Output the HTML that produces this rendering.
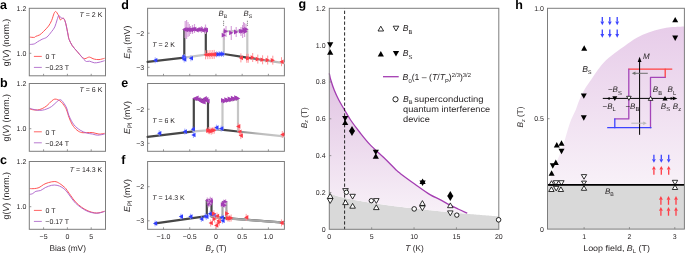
<!DOCTYPE html><html><head><meta charset="utf-8"><style>html,body{margin:0;padding:0;background:#fff;overflow:hidden}svg{display:block;will-change:transform;text-rendering:geometricPrecision}</style></head><body><svg width="685" height="254" viewBox="0 0 685 254" font-family="Liberation Sans, sans-serif">
<defs><linearGradient id="gpink" x1="0" y1="0" x2="0" y2="1" gradientUnits="objectBoundingBox"><stop offset="0" stop-color="#ddb9e0"/><stop offset="1" stop-color="#f6eef7"/></linearGradient><linearGradient id="hpink" x1="0" y1="25" x2="0" y2="185" gradientUnits="userSpaceOnUse"><stop offset="0" stop-color="#e6cbe8"/><stop offset="1" stop-color="#f8f1f8"/></linearGradient></defs>
<rect width="685" height="254" fill="#fff"/>
<path d="M29.60,37.10 C30.38,37.15 33.25,37.53 34.30,37.40 C35.35,37.27 34.98,36.73 35.90,36.30 C36.82,35.87 38.50,35.63 39.80,34.80 C41.10,33.97 42.25,32.75 43.70,31.30 C45.15,29.85 47.18,27.88 48.50,26.10 C49.82,24.32 50.68,22.70 51.60,20.60 C52.52,18.50 53.33,15.02 54.00,13.50 C54.67,11.98 55.08,11.58 55.60,11.50 C56.12,11.42 56.58,12.27 57.10,13.00 C57.62,13.73 58.17,14.77 58.70,15.90 C59.23,17.03 59.77,19.33 60.30,19.80 C60.83,20.27 61.30,18.88 61.90,18.70 C62.50,18.52 63.25,17.87 63.90,18.70 C64.55,19.53 65.12,21.15 65.80,23.70 C66.48,26.25 67.45,31.38 68.00,34.00 C68.55,36.62 68.38,37.45 69.10,39.40 C69.82,41.35 70.98,43.72 72.30,45.70 C73.62,47.68 75.43,49.45 77.00,51.30 C78.57,53.15 80.38,55.57 81.70,56.80 C83.02,58.03 83.93,58.57 84.90,58.70 C85.87,58.83 86.72,57.87 87.50,57.60 C88.28,57.33 88.85,57.00 89.60,57.10 C90.35,57.20 91.22,57.87 92.00,58.20 C92.78,58.53 93.13,58.87 94.30,59.10 C95.47,59.33 97.28,59.73 99.00,59.60 C100.72,59.47 103.67,58.52 104.60,58.30" fill="none" stroke="#ff4d4d" stroke-width="0.95" stroke-linejoin="round" />
<path d="M29.60,44.50 C30.38,44.40 33.00,44.33 34.30,43.90 C35.60,43.47 36.08,42.68 37.40,41.90 C38.72,41.12 40.62,40.00 42.20,39.20 C43.78,38.40 45.33,38.37 46.90,37.10 C48.47,35.83 50.28,33.30 51.60,31.60 C52.92,29.90 53.88,28.87 54.80,26.90 C55.72,24.93 56.45,21.68 57.10,19.80 C57.75,17.92 58.17,16.05 58.70,15.60 C59.23,15.15 59.77,16.67 60.30,17.10 C60.83,17.53 61.30,17.93 61.90,18.20 C62.50,18.47 63.25,17.78 63.90,18.70 C64.55,19.62 65.12,20.98 65.80,23.70 C66.48,26.42 67.45,32.38 68.00,35.00 C68.55,37.62 68.38,37.62 69.10,39.40 C69.82,41.18 70.98,43.72 72.30,45.70 C73.62,47.68 75.43,49.45 77.00,51.30 C78.57,53.15 80.53,55.42 81.70,56.80 C82.87,58.18 83.20,58.82 84.00,59.60 C84.80,60.38 85.57,61.23 86.50,61.50 C87.43,61.77 88.30,60.98 89.60,61.20 C90.90,61.42 92.73,62.62 94.30,62.80 C95.87,62.98 97.28,62.65 99.00,62.30 C100.72,61.95 103.67,60.97 104.60,60.70" fill="none" stroke="#a95ac8" stroke-width="0.95" stroke-linejoin="round" stroke-opacity="0.92"/>
<rect x="29.30" y="8.30" width="76.20" height="67.50" fill="none" stroke="#7d7d7d" stroke-width="1"/>
<line x1="43.59" y1="75.80" x2="43.59" y2="73.80" stroke="#7d7d7d" stroke-width="0.8" />
<line x1="67.40" y1="75.80" x2="67.40" y2="73.80" stroke="#7d7d7d" stroke-width="0.8" />
<line x1="91.21" y1="75.80" x2="91.21" y2="73.80" stroke="#7d7d7d" stroke-width="0.8" />
<line x1="29.30" y1="53.30" x2="31.30" y2="53.30" stroke="#7d7d7d" stroke-width="0.8" />
<text x="26.30" y="10.80" font-size="7" text-anchor="end" fill="#231f20" >1.2</text>
<text x="26.30" y="55.80" font-size="7" text-anchor="end" fill="#231f20" >1.0</text>
<line x1="33.90" y1="56.40" x2="41.80" y2="56.40" stroke="#ff6464" stroke-width="1.0" />
<line x1="33.90" y1="67.40" x2="41.80" y2="67.40" stroke="#b87ad0" stroke-width="1.0" />
<text x="45.60" y="59.10" font-size="7" text-anchor="start" fill="#231f20" >0 T</text>
<text x="45.30" y="70.10" font-size="7" text-anchor="start" fill="#231f20" >−0.23 T</text>
<text x="102.3" y="17.10" font-size="7" text-anchor="end" fill="#231f20"><tspan font-style="italic">T</tspan> = 2 K</text>
<text transform="translate(9.0,42.45) rotate(-90)" font-size="8.8" text-anchor="middle" fill="#231f20">g(<tspan font-style="italic">V</tspan>) (norm.)</text>
<path d="M29.60,108.90 C30.12,109.03 31.40,109.52 32.70,109.70 C34.00,109.88 35.82,110.18 37.40,110.00 C38.98,109.82 40.62,109.32 42.20,108.60 C43.78,107.88 45.33,106.97 46.90,105.70 C48.47,104.43 50.28,102.10 51.60,101.00 C52.92,99.90 53.75,99.30 54.80,99.10 C55.85,98.90 56.85,99.35 57.90,99.80 C58.95,100.25 60.05,100.82 61.10,101.80 C62.15,102.78 63.30,104.37 64.20,105.70 C65.10,107.03 65.68,107.82 66.50,109.80 C67.32,111.78 68.13,115.12 69.10,117.60 C70.07,120.08 70.98,122.60 72.30,124.70 C73.62,126.80 75.43,128.88 77.00,130.20 C78.57,131.52 80.12,132.20 81.70,132.60 C83.28,133.00 84.65,132.60 86.50,132.60 C88.35,132.60 90.72,132.35 92.80,132.60 C94.88,132.85 97.03,133.98 99.00,134.10 C100.97,134.22 103.67,133.43 104.60,133.30" fill="none" stroke="#ff4d4d" stroke-width="0.95" stroke-linejoin="round" />
<path d="M29.60,108.10 C30.12,108.28 31.40,108.85 32.70,109.20 C34.00,109.55 35.82,110.03 37.40,110.20 C38.98,110.37 40.62,110.42 42.20,110.20 C43.78,109.98 45.33,109.52 46.90,108.90 C48.47,108.28 50.03,107.60 51.60,106.50 C53.17,105.40 54.98,103.42 56.30,102.30 C57.62,101.18 58.57,100.07 59.50,99.80 C60.43,99.53 60.98,99.83 61.90,100.70 C62.82,101.57 64.15,103.62 65.00,105.00 C65.85,106.38 66.32,107.17 67.00,109.00 C67.68,110.83 67.95,113.38 69.10,116.00 C70.25,118.62 72.05,122.33 73.90,124.70 C75.75,127.07 78.10,128.82 80.20,130.20 C82.30,131.58 84.40,132.35 86.50,133.00 C88.60,133.65 90.97,133.73 92.80,134.10 C94.63,134.47 95.53,135.20 97.50,135.20 C99.47,135.20 103.42,134.28 104.60,134.10" fill="none" stroke="#a95ac8" stroke-width="0.95" stroke-linejoin="round" stroke-opacity="0.92"/>
<rect x="29.30" y="83.50" width="76.20" height="67.80" fill="none" stroke="#7d7d7d" stroke-width="1"/>
<line x1="43.59" y1="151.30" x2="43.59" y2="149.30" stroke="#7d7d7d" stroke-width="0.8" />
<line x1="67.40" y1="151.30" x2="67.40" y2="149.30" stroke="#7d7d7d" stroke-width="0.8" />
<line x1="91.21" y1="151.30" x2="91.21" y2="149.30" stroke="#7d7d7d" stroke-width="0.8" />
<line x1="29.30" y1="128.70" x2="31.30" y2="128.70" stroke="#7d7d7d" stroke-width="0.8" />
<text x="26.30" y="86.00" font-size="7" text-anchor="end" fill="#231f20" >1.2</text>
<text x="26.30" y="131.20" font-size="7" text-anchor="end" fill="#231f20" >1.0</text>
<line x1="33.90" y1="131.80" x2="41.80" y2="131.80" stroke="#ff6464" stroke-width="1.0" />
<line x1="33.90" y1="142.80" x2="41.80" y2="142.80" stroke="#b87ad0" stroke-width="1.0" />
<text x="45.60" y="134.50" font-size="7" text-anchor="start" fill="#231f20" >0 T</text>
<text x="45.30" y="145.50" font-size="7" text-anchor="start" fill="#231f20" >−0.24 T</text>
<text x="102.3" y="92.30" font-size="7" text-anchor="end" fill="#231f20"><tspan font-style="italic">T</tspan> = 6 K</text>
<text transform="translate(9.0,117.80) rotate(-90)" font-size="8.8" text-anchor="middle" fill="#231f20">g(<tspan font-style="italic">V</tspan>) (norm.)</text>
<path d="M29.60,188.60 C30.38,188.60 32.73,188.77 34.30,188.60 C35.87,188.43 37.43,188.28 39.00,187.60 C40.57,186.92 42.12,185.33 43.70,184.50 C45.28,183.67 46.65,183.10 48.50,182.60 C50.35,182.10 52.97,181.37 54.80,181.50 C56.63,181.63 57.93,182.48 59.50,183.40 C61.07,184.32 63.12,186.08 64.20,187.00 C65.28,187.92 64.92,187.48 66.00,188.90 C67.08,190.32 69.13,193.35 70.70,195.50 C72.27,197.65 73.57,199.83 75.40,201.80 C77.23,203.77 79.60,205.78 81.70,207.30 C83.80,208.82 85.90,209.98 88.00,210.90 C90.10,211.82 92.47,212.48 94.30,212.80 C96.13,213.12 97.28,213.07 99.00,212.80 C100.72,212.53 103.67,211.47 104.60,211.20" fill="none" stroke="#ff4d4d" stroke-width="0.95" stroke-linejoin="round" />
<path d="M29.60,194.40 C30.12,194.27 31.65,194.12 32.70,193.60 C33.75,193.08 34.58,191.82 35.90,191.30 C37.22,190.78 39.03,191.12 40.60,190.50 C42.17,189.88 43.47,188.47 45.30,187.60 C47.13,186.73 49.63,185.68 51.60,185.30 C53.57,184.92 55.38,184.97 57.10,185.30 C58.82,185.63 60.42,186.40 61.90,187.30 C63.38,188.20 64.53,189.08 66.00,190.70 C67.47,192.32 69.13,194.95 70.70,197.00 C72.27,199.05 73.57,201.17 75.40,203.00 C77.23,204.83 79.60,206.58 81.70,208.00 C83.80,209.42 85.90,210.65 88.00,211.50 C90.10,212.35 92.47,212.85 94.30,213.10 C96.13,213.35 97.28,213.27 99.00,213.00 C100.72,212.73 103.67,211.75 104.60,211.50" fill="none" stroke="#a95ac8" stroke-width="0.95" stroke-linejoin="round" stroke-opacity="0.92"/>
<rect x="29.30" y="161.50" width="76.20" height="67.80" fill="none" stroke="#7d7d7d" stroke-width="1"/>
<line x1="43.59" y1="229.30" x2="43.59" y2="227.30" stroke="#7d7d7d" stroke-width="0.8" />
<line x1="67.40" y1="229.30" x2="67.40" y2="227.30" stroke="#7d7d7d" stroke-width="0.8" />
<line x1="91.21" y1="229.30" x2="91.21" y2="227.30" stroke="#7d7d7d" stroke-width="0.8" />
<line x1="29.30" y1="206.70" x2="31.30" y2="206.70" stroke="#7d7d7d" stroke-width="0.8" />
<text x="26.30" y="164.00" font-size="7" text-anchor="end" fill="#231f20" >1.2</text>
<text x="26.30" y="209.20" font-size="7" text-anchor="end" fill="#231f20" >1.0</text>
<line x1="33.90" y1="210.40" x2="41.80" y2="210.40" stroke="#ff6464" stroke-width="1.0" />
<line x1="33.90" y1="221.40" x2="41.80" y2="221.40" stroke="#b87ad0" stroke-width="1.0" />
<text x="45.60" y="213.10" font-size="7" text-anchor="start" fill="#231f20" >0 T</text>
<text x="45.30" y="224.10" font-size="7" text-anchor="start" fill="#231f20" >−0.17 T</text>
<text x="102.3" y="172.00" font-size="7" text-anchor="end" fill="#231f20"><tspan font-style="italic">T</tspan> = 14.3 K</text>
<text transform="translate(9.0,195.80) rotate(-90)" font-size="8.8" text-anchor="middle" fill="#231f20">g(<tspan font-style="italic">V</tspan>) (norm.)</text>
<text x="0.00" y="9.00" font-size="12.5" text-anchor="start" fill="#000" font-weight="bold" >a</text>
<text x="0.00" y="86.60" font-size="12.5" text-anchor="start" fill="#000" font-weight="bold" >b</text>
<text x="0.00" y="164.40" font-size="12.5" text-anchor="start" fill="#000" font-weight="bold" >c</text>
<text x="43.59" y="239.00" font-size="7" text-anchor="middle" fill="#231f20" >−5</text>
<text x="67.40" y="239.00" font-size="7" text-anchor="middle" fill="#231f20" >0</text>
<text x="91.21" y="239.00" font-size="7" text-anchor="middle" fill="#231f20" >5</text>
<text x="67.70" y="251.20" font-size="8.3" text-anchor="middle" fill="#231f20" >Bias (mV)</text>
<rect x="147.60" y="8.30" width="136.80" height="67.50" fill="none" stroke="#7d7d7d" stroke-width="1"/>
<line x1="163.50" y1="75.80" x2="163.50" y2="73.80" stroke="#7d7d7d" stroke-width="0.8" />
<line x1="189.72" y1="75.80" x2="189.72" y2="73.80" stroke="#7d7d7d" stroke-width="0.8" />
<line x1="215.95" y1="75.80" x2="215.95" y2="73.80" stroke="#7d7d7d" stroke-width="0.8" />
<line x1="242.17" y1="75.80" x2="242.17" y2="73.80" stroke="#7d7d7d" stroke-width="0.8" />
<line x1="268.40" y1="75.80" x2="268.40" y2="73.80" stroke="#7d7d7d" stroke-width="0.8" />
<line x1="147.60" y1="33.20" x2="149.60" y2="33.20" stroke="#7d7d7d" stroke-width="0.8" />
<text x="144.20" y="35.70" font-size="7" text-anchor="end" fill="#231f20" >−2</text>
<line x1="147.60" y1="67.30" x2="149.60" y2="67.30" stroke="#7d7d7d" stroke-width="0.8" />
<text x="144.20" y="69.80" font-size="7" text-anchor="end" fill="#231f20" >−3</text>
<text transform="translate(129.8,42.15) rotate(-90)" font-size="8.8" text-anchor="middle" fill="#231f20"><tspan font-style="italic">E</tspan><tspan font-size="6.4" dy="1.8">Pl</tspan><tspan dy="-1.8"> (mV)</tspan></text>
<text x="152.2" y="47.30" font-size="7" fill="#231f20"><tspan font-style="italic">T</tspan> = 2 K</text>
<rect x="147.60" y="83.50" width="136.80" height="67.80" fill="none" stroke="#7d7d7d" stroke-width="1"/>
<line x1="163.50" y1="151.30" x2="163.50" y2="149.30" stroke="#7d7d7d" stroke-width="0.8" />
<line x1="189.72" y1="151.30" x2="189.72" y2="149.30" stroke="#7d7d7d" stroke-width="0.8" />
<line x1="215.95" y1="151.30" x2="215.95" y2="149.30" stroke="#7d7d7d" stroke-width="0.8" />
<line x1="242.17" y1="151.30" x2="242.17" y2="149.30" stroke="#7d7d7d" stroke-width="0.8" />
<line x1="268.40" y1="151.30" x2="268.40" y2="149.30" stroke="#7d7d7d" stroke-width="0.8" />
<line x1="147.60" y1="109.20" x2="149.60" y2="109.20" stroke="#7d7d7d" stroke-width="0.8" />
<text x="144.20" y="111.70" font-size="7" text-anchor="end" fill="#231f20" >−2</text>
<line x1="147.60" y1="143.30" x2="149.60" y2="143.30" stroke="#7d7d7d" stroke-width="0.8" />
<text x="144.20" y="145.80" font-size="7" text-anchor="end" fill="#231f20" >−3</text>
<text transform="translate(129.8,117.50) rotate(-90)" font-size="8.8" text-anchor="middle" fill="#231f20"><tspan font-style="italic">E</tspan><tspan font-size="6.4" dy="1.8">Pl</tspan><tspan dy="-1.8"> (mV)</tspan></text>
<text x="152.2" y="122.90" font-size="7" fill="#231f20"><tspan font-style="italic">T</tspan> = 6 K</text>
<rect x="147.60" y="161.50" width="136.80" height="67.80" fill="none" stroke="#7d7d7d" stroke-width="1"/>
<line x1="163.50" y1="229.30" x2="163.50" y2="227.30" stroke="#7d7d7d" stroke-width="0.8" />
<line x1="189.72" y1="229.30" x2="189.72" y2="227.30" stroke="#7d7d7d" stroke-width="0.8" />
<line x1="215.95" y1="229.30" x2="215.95" y2="227.30" stroke="#7d7d7d" stroke-width="0.8" />
<line x1="242.17" y1="229.30" x2="242.17" y2="227.30" stroke="#7d7d7d" stroke-width="0.8" />
<line x1="268.40" y1="229.30" x2="268.40" y2="227.30" stroke="#7d7d7d" stroke-width="0.8" />
<line x1="147.60" y1="186.70" x2="149.60" y2="186.70" stroke="#7d7d7d" stroke-width="0.8" />
<text x="144.20" y="189.20" font-size="7" text-anchor="end" fill="#231f20" >−2</text>
<line x1="147.60" y1="220.80" x2="149.60" y2="220.80" stroke="#7d7d7d" stroke-width="0.8" />
<text x="144.20" y="223.30" font-size="7" text-anchor="end" fill="#231f20" >−3</text>
<text transform="translate(129.8,195.50) rotate(-90)" font-size="8.8" text-anchor="middle" fill="#231f20"><tspan font-style="italic">E</tspan><tspan font-size="6.4" dy="1.8">Pl</tspan><tspan dy="-1.8"> (mV)</tspan></text>
<text x="152.2" y="199.80" font-size="7" fill="#231f20"><tspan font-style="italic">T</tspan> = 14.3 K</text>
<polyline points="147.60,61.80 184.30,57.60 184.30,29.50 205.80,30.20 205.80,54.50 223.80,54.00 247.30,57.60" fill="none" stroke="#464646" stroke-width="2.2" stroke-linejoin="round" stroke-linecap="round" />
<polyline points="184.30,57.60 205.80,54.70 223.80,54.10 223.80,31.30 247.30,30.50 247.30,57.60" fill="none" stroke="#c6c6c6" stroke-width="2.2" stroke-linejoin="round" stroke-linecap="round" />
<linearGradient id="lgd" x1="247" y1="0" x2="284" y2="0" gradientUnits="userSpaceOnUse"><stop offset="0" stop-color="#505050"/><stop offset="0.6" stop-color="#b0b0b0"/><stop offset="1" stop-color="#c6c6c6"/></linearGradient>
<path d="M247.3,57.6 L284.0,63.2" stroke="url(#lgd)" stroke-width="2.2" stroke-linecap="round" fill="none"/>
<line x1="185.20" y1="21.00" x2="185.20" y2="38.00" stroke="#d7a3db" stroke-width="1.2" />
<line x1="186.60" y1="19.90" x2="186.60" y2="39.10" stroke="#d7a3db" stroke-width="1.2" />
<line x1="188.00" y1="22.00" x2="188.00" y2="37.00" stroke="#d7a3db" stroke-width="1.2" />
<line x1="189.30" y1="24.00" x2="189.30" y2="36.00" stroke="#d7a3db" stroke-width="1.2" />
<line x1="190.50" y1="26.00" x2="190.50" y2="34.00" stroke="#d7a3db" stroke-width="1.2" />
<line x1="192.50" y1="25.00" x2="192.50" y2="34.00" stroke="#d7a3db" stroke-width="1.2" />
<line x1="194.50" y1="24.00" x2="194.50" y2="33.00" stroke="#d7a3db" stroke-width="1.2" />
<line x1="199.00" y1="27.00" x2="199.00" y2="32.00" stroke="#d7a3db" stroke-width="1.2" />
<line x1="201.50" y1="26.00" x2="201.50" y2="33.00" stroke="#d7a3db" stroke-width="1.2" />
<line x1="204.50" y1="27.00" x2="204.50" y2="32.00" stroke="#d7a3db" stroke-width="1.2" />
<line x1="205.50" y1="24.50" x2="205.50" y2="34.00" stroke="#d7a3db" stroke-width="1.2" />
<line x1="224.20" y1="28.00" x2="224.20" y2="40.00" stroke="#d7a3db" stroke-width="1.2" />
<line x1="226.00" y1="26.00" x2="226.00" y2="37.00" stroke="#d7a3db" stroke-width="1.2" />
<line x1="231.30" y1="26.00" x2="231.30" y2="40.00" stroke="#d7a3db" stroke-width="1.2" />
<line x1="236.20" y1="27.00" x2="236.20" y2="37.00" stroke="#d7a3db" stroke-width="1.2" />
<line x1="241.00" y1="27.00" x2="241.00" y2="36.00" stroke="#d7a3db" stroke-width="1.2" />
<line x1="242.60" y1="25.00" x2="242.60" y2="38.00" stroke="#d7a3db" stroke-width="1.2" />
<line x1="244.60" y1="23.00" x2="244.60" y2="37.00" stroke="#d7a3db" stroke-width="1.2" />
<line x1="246.00" y1="24.00" x2="246.00" y2="33.00" stroke="#d7a3db" stroke-width="1.2" />
<line x1="243.50" y1="22.00" x2="243.50" y2="30.00" stroke="#d7a3db" stroke-width="1.2" />
<polygon points="182.10,29.39 186.50,26.99 186.50,31.79" fill="#a23db4" stroke="none" stroke-width="0.8" stroke-linejoin="miter"/>
<polygon points="183.80,29.75 188.20,27.35 188.20,32.15" fill="#a23db4" stroke="none" stroke-width="0.8" stroke-linejoin="miter"/>
<polygon points="185.40,29.54 189.80,27.14 189.80,31.94" fill="#a23db4" stroke="none" stroke-width="0.8" stroke-linejoin="miter"/>
<polygon points="187.00,29.82 191.40,27.42 191.40,32.22" fill="#a23db4" stroke="none" stroke-width="0.8" stroke-linejoin="miter"/>
<polygon points="188.60,29.85 193.00,27.45 193.00,32.25" fill="#a23db4" stroke="none" stroke-width="0.8" stroke-linejoin="miter"/>
<polygon points="190.20,29.18 194.60,26.78 194.60,31.58" fill="#a23db4" stroke="none" stroke-width="0.8" stroke-linejoin="miter"/>
<polygon points="192.00,29.12 196.40,26.72 196.40,31.52" fill="#a23db4" stroke="none" stroke-width="0.8" stroke-linejoin="miter"/>
<polygon points="194.20,30.10 198.60,27.70 198.60,32.50" fill="#a23db4" stroke="none" stroke-width="0.8" stroke-linejoin="miter"/>
<polygon points="196.20,29.41 200.60,27.01 200.60,31.81" fill="#a23db4" stroke="none" stroke-width="0.8" stroke-linejoin="miter"/>
<polygon points="198.40,29.38 202.80,26.98 202.80,31.78" fill="#a23db4" stroke="none" stroke-width="0.8" stroke-linejoin="miter"/>
<polygon points="200.40,30.29 204.80,27.89 204.80,32.69" fill="#a23db4" stroke="none" stroke-width="0.8" stroke-linejoin="miter"/>
<polygon points="202.40,29.66 206.80,27.26 206.80,32.06" fill="#a23db4" stroke="none" stroke-width="0.8" stroke-linejoin="miter"/>
<polygon points="203.60,30.10 208.00,27.70 208.00,32.50" fill="#a23db4" stroke="none" stroke-width="0.8" stroke-linejoin="miter"/>
<polygon points="226.10,35.20 221.70,32.80 221.70,37.60" fill="#a23db4" stroke="none" stroke-width="0.8" stroke-linejoin="miter"/>
<polygon points="228.10,31.30 223.70,28.90 223.70,33.70" fill="#a23db4" stroke="none" stroke-width="0.8" stroke-linejoin="miter"/>
<polygon points="233.50,32.80 229.10,30.40 229.10,35.20" fill="#a23db4" stroke="none" stroke-width="0.8" stroke-linejoin="miter"/>
<polygon points="238.40,32.00 234.00,29.60 234.00,34.40" fill="#a23db4" stroke="none" stroke-width="0.8" stroke-linejoin="miter"/>
<polygon points="243.20,31.20 238.80,28.80 238.80,33.60" fill="#a23db4" stroke="none" stroke-width="0.8" stroke-linejoin="miter"/>
<polygon points="244.80,31.30 240.40,28.90 240.40,33.70" fill="#a23db4" stroke="none" stroke-width="0.8" stroke-linejoin="miter"/>
<polygon points="246.80,29.80 242.40,27.40 242.40,32.20" fill="#a23db4" stroke="none" stroke-width="0.8" stroke-linejoin="miter"/>
<polygon points="248.70,29.30 244.30,26.90 244.30,31.70" fill="#a23db4" stroke="none" stroke-width="0.8" stroke-linejoin="miter"/>
<polygon points="247.70,31.50 243.30,29.10 243.30,33.90" fill="#a23db4" stroke="none" stroke-width="0.8" stroke-linejoin="miter"/>
<line x1="155.20" y1="57.30" x2="155.20" y2="63.30" stroke="#8c95ff" stroke-width="0.8" />
<polygon points="153.10,60.30 157.30,58.00 157.30,62.60" fill="#2f3dff" stroke="none" stroke-width="0.8" stroke-linejoin="miter"/>
<line x1="183.00" y1="54.80" x2="183.00" y2="60.80" stroke="#8c95ff" stroke-width="0.8" />
<polygon points="180.90,57.80 185.10,55.50 185.10,60.10" fill="#2f3dff" stroke="none" stroke-width="0.8" stroke-linejoin="miter"/>
<line x1="184.60" y1="54.00" x2="184.60" y2="60.00" stroke="#8c95ff" stroke-width="0.8" />
<polygon points="186.70,57.00 182.50,54.70 182.50,59.30" fill="#2f3dff" stroke="none" stroke-width="0.8" stroke-linejoin="miter"/>
<line x1="184.20" y1="56.50" x2="184.20" y2="62.50" stroke="#8c95ff" stroke-width="0.8" />
<polygon points="182.10,59.50 186.30,57.20 186.30,61.80" fill="#2f3dff" stroke="none" stroke-width="0.8" stroke-linejoin="miter"/>
<line x1="190.90" y1="55.30" x2="190.90" y2="61.30" stroke="#8c95ff" stroke-width="0.8" />
<polygon points="188.80,58.30 193.00,56.00 193.00,60.60" fill="#2f3dff" stroke="none" stroke-width="0.8" stroke-linejoin="miter"/>
<line x1="216.60" y1="51.30" x2="216.60" y2="57.30" stroke="#8c95ff" stroke-width="0.8" />
<polygon points="218.70,54.30 214.50,52.00 214.50,56.60" fill="#2f3dff" stroke="none" stroke-width="0.8" stroke-linejoin="miter"/>
<line x1="219.00" y1="51.20" x2="219.00" y2="57.20" stroke="#8c95ff" stroke-width="0.8" />
<polygon points="221.10,54.20 216.90,51.90 216.90,56.50" fill="#2f3dff" stroke="none" stroke-width="0.8" stroke-linejoin="miter"/>
<line x1="221.40" y1="51.00" x2="221.40" y2="57.00" stroke="#8c95ff" stroke-width="0.8" />
<polygon points="223.50,54.00 219.30,51.70 219.30,56.30" fill="#2f3dff" stroke="none" stroke-width="0.8" stroke-linejoin="miter"/>
<line x1="223.40" y1="51.00" x2="223.40" y2="57.00" stroke="#8c95ff" stroke-width="0.8" />
<polygon points="225.50,54.00 221.30,51.70 221.30,56.30" fill="#2f3dff" stroke="none" stroke-width="0.8" stroke-linejoin="miter"/>
<line x1="205.60" y1="50.30" x2="205.60" y2="59.30" stroke="#ff8a90" stroke-width="0.9" />
<polygon points="203.50,54.80 207.70,52.50 207.70,57.10" fill="#ff3b46" stroke="none" stroke-width="0.8" stroke-linejoin="miter"/>
<line x1="207.80" y1="50.20" x2="207.80" y2="59.20" stroke="#ff8a90" stroke-width="0.9" />
<polygon points="205.70,54.70 209.90,52.40 209.90,57.00" fill="#ff3b46" stroke="none" stroke-width="0.8" stroke-linejoin="miter"/>
<line x1="210.00" y1="50.10" x2="210.00" y2="59.10" stroke="#ff8a90" stroke-width="0.9" />
<polygon points="207.90,54.60 212.10,52.30 212.10,56.90" fill="#ff3b46" stroke="none" stroke-width="0.8" stroke-linejoin="miter"/>
<line x1="212.20" y1="50.00" x2="212.20" y2="59.00" stroke="#ff8a90" stroke-width="0.9" />
<polygon points="210.10,54.50 214.30,52.20 214.30,56.80" fill="#ff3b46" stroke="none" stroke-width="0.8" stroke-linejoin="miter"/>
<line x1="214.20" y1="49.90" x2="214.20" y2="58.90" stroke="#ff8a90" stroke-width="0.9" />
<polygon points="212.10,54.40 216.30,52.10 216.30,56.70" fill="#ff3b46" stroke="none" stroke-width="0.8" stroke-linejoin="miter"/>
<line x1="240.90" y1="53.40" x2="240.90" y2="62.40" stroke="#ff8a90" stroke-width="0.9" />
<polygon points="238.80,57.90 243.00,55.60 243.00,60.20" fill="#ff3b46" stroke="none" stroke-width="0.8" stroke-linejoin="miter"/>
<line x1="246.80" y1="53.80" x2="246.80" y2="62.80" stroke="#ff8a90" stroke-width="0.9" />
<polygon points="244.70,58.30 248.90,56.00 248.90,60.60" fill="#ff3b46" stroke="none" stroke-width="0.8" stroke-linejoin="miter"/>
<line x1="248.20" y1="53.80" x2="248.20" y2="62.80" stroke="#ff8a90" stroke-width="0.9" />
<polygon points="250.30,58.30 246.10,56.00 246.10,60.60" fill="#ff3b46" stroke="none" stroke-width="0.8" stroke-linejoin="miter"/>
<line x1="252.70" y1="53.00" x2="252.70" y2="62.00" stroke="#ff8a90" stroke-width="0.9" />
<polygon points="254.80,57.50 250.60,55.20 250.60,59.80" fill="#ff3b46" stroke="none" stroke-width="0.8" stroke-linejoin="miter"/>
<line x1="257.80" y1="54.60" x2="257.80" y2="63.60" stroke="#ff8a90" stroke-width="0.9" />
<polygon points="259.90,59.10 255.70,56.80 255.70,61.40" fill="#ff3b46" stroke="none" stroke-width="0.8" stroke-linejoin="miter"/>
<line x1="262.60" y1="55.30" x2="262.60" y2="64.30" stroke="#ff8a90" stroke-width="0.9" />
<polygon points="264.70,59.80 260.50,57.50 260.50,62.10" fill="#ff3b46" stroke="none" stroke-width="0.8" stroke-linejoin="miter"/>
<line x1="267.70" y1="55.60" x2="267.70" y2="64.60" stroke="#ff8a90" stroke-width="0.9" />
<polygon points="269.80,60.10 265.60,57.80 265.60,62.40" fill="#ff3b46" stroke="none" stroke-width="0.8" stroke-linejoin="miter"/>
<line x1="272.80" y1="55.70" x2="272.80" y2="64.70" stroke="#ff8a90" stroke-width="0.9" />
<polygon points="274.90,60.20 270.70,57.90 270.70,62.50" fill="#ff3b46" stroke="none" stroke-width="0.8" stroke-linejoin="miter"/>
<line x1="281.50" y1="57.20" x2="281.50" y2="66.20" stroke="#ff8a90" stroke-width="0.9" />
<polygon points="279.40,61.70 283.60,59.40 283.60,64.00" fill="#ff3b46" stroke="none" stroke-width="0.8" stroke-linejoin="miter"/>
<text x="218.6" y="15.8" font-size="7.8" fill="#231f20"><tspan font-style="italic">B</tspan><tspan font-size="5.2" dy="2.4">B</tspan></text>
<text x="243.6" y="15.8" font-size="7.8" fill="#231f20"><tspan font-style="italic">B</tspan><tspan font-size="5.2" dy="2.4">S</tspan></text>
<line x1="223.60" y1="20.80" x2="223.60" y2="26.00" stroke="#333" stroke-width="0.8" stroke-dasharray="0.9,1.1"/>
<line x1="247.40" y1="20.80" x2="247.40" y2="26.00" stroke="#333" stroke-width="0.8" stroke-dasharray="0.9,1.1"/>
<polyline points="147.60,136.80 193.80,131.30 193.80,98.90 208.00,100.50 208.00,130.40 221.00,129.70 238.00,131.50" fill="none" stroke="#464646" stroke-width="2.2" stroke-linejoin="round" stroke-linecap="round" />
<polyline points="193.80,131.30 207.60,130.40 222.50,129.50 222.50,101.40 238.00,99.50 238.00,131.50" fill="none" stroke="#c6c6c6" stroke-width="2.2" stroke-linejoin="round" stroke-linecap="round" />
<linearGradient id="lge" x1="238" y1="0" x2="284" y2="0" gradientUnits="userSpaceOnUse"><stop offset="0" stop-color="#8a8a8a"/><stop offset="0.5" stop-color="#bdbdbd"/><stop offset="1" stop-color="#c8c8c8"/></linearGradient>
<path d="M238,131.5 L284.0,136.3" stroke="url(#lge)" stroke-width="2.2" stroke-linecap="round" fill="none"/>
<polygon points="192.40,98.60 196.80,96.20 196.80,101.00" fill="#a23db4" stroke="none" stroke-width="0.8" stroke-linejoin="miter"/>
<polygon points="194.20,98.00 198.60,95.60 198.60,100.40" fill="#a23db4" stroke="none" stroke-width="0.8" stroke-linejoin="miter"/>
<polygon points="196.10,99.40 200.50,97.00 200.50,101.80" fill="#a23db4" stroke="none" stroke-width="0.8" stroke-linejoin="miter"/>
<polygon points="197.60,100.60 202.00,98.20 202.00,103.00" fill="#a23db4" stroke="none" stroke-width="0.8" stroke-linejoin="miter"/>
<polygon points="199.20,101.60 203.60,99.20 203.60,104.00" fill="#a23db4" stroke="none" stroke-width="0.8" stroke-linejoin="miter"/>
<polygon points="200.60,100.40 205.00,98.00 205.00,102.80" fill="#a23db4" stroke="none" stroke-width="0.8" stroke-linejoin="miter"/>
<polygon points="202.40,98.40 206.80,96.00 206.80,100.80" fill="#a23db4" stroke="none" stroke-width="0.8" stroke-linejoin="miter"/>
<polygon points="204.00,99.40 208.40,97.00 208.40,101.80" fill="#a23db4" stroke="none" stroke-width="0.8" stroke-linejoin="miter"/>
<polygon points="205.20,101.20 209.60,98.80 209.60,103.60" fill="#a23db4" stroke="none" stroke-width="0.8" stroke-linejoin="miter"/>
<polygon points="201.30,102.20 205.70,99.80 205.70,104.60" fill="#a23db4" stroke="none" stroke-width="0.8" stroke-linejoin="miter"/>
<polygon points="225.40,100.30 221.00,97.90 221.00,102.70" fill="#a23db4" stroke="none" stroke-width="0.8" stroke-linejoin="miter"/>
<polygon points="227.05,101.15 222.65,98.75 222.65,103.55" fill="#a23db4" stroke="none" stroke-width="0.8" stroke-linejoin="miter"/>
<polygon points="228.70,99.61 224.30,97.21 224.30,102.01" fill="#a23db4" stroke="none" stroke-width="0.8" stroke-linejoin="miter"/>
<polygon points="230.35,100.46 225.95,98.06 225.95,102.86" fill="#a23db4" stroke="none" stroke-width="0.8" stroke-linejoin="miter"/>
<polygon points="232.00,98.91 227.60,96.51 227.60,101.31" fill="#a23db4" stroke="none" stroke-width="0.8" stroke-linejoin="miter"/>
<polygon points="233.65,99.77 229.25,97.37 229.25,102.17" fill="#a23db4" stroke="none" stroke-width="0.8" stroke-linejoin="miter"/>
<polygon points="235.30,98.22 230.90,95.82 230.90,100.62" fill="#a23db4" stroke="none" stroke-width="0.8" stroke-linejoin="miter"/>
<polygon points="236.95,99.07 232.55,96.67 232.55,101.47" fill="#a23db4" stroke="none" stroke-width="0.8" stroke-linejoin="miter"/>
<polygon points="238.60,97.53 234.20,95.13 234.20,99.93" fill="#a23db4" stroke="none" stroke-width="0.8" stroke-linejoin="miter"/>
<polygon points="240.25,98.38 235.85,95.98 235.85,100.78" fill="#a23db4" stroke="none" stroke-width="0.8" stroke-linejoin="miter"/>
<line x1="159.20" y1="130.20" x2="159.20" y2="136.20" stroke="#8c95ff" stroke-width="0.8" />
<polygon points="157.10,133.20 161.30,130.90 161.30,135.50" fill="#2f3dff" stroke="none" stroke-width="0.8" stroke-linejoin="miter"/>
<line x1="184.80" y1="128.60" x2="184.80" y2="134.60" stroke="#8c95ff" stroke-width="0.8" />
<polygon points="182.70,131.60 186.90,129.30 186.90,133.90" fill="#2f3dff" stroke="none" stroke-width="0.8" stroke-linejoin="miter"/>
<line x1="192.80" y1="126.30" x2="192.80" y2="132.30" stroke="#8c95ff" stroke-width="0.8" />
<polygon points="190.70,129.30 194.90,127.00 194.90,131.60" fill="#2f3dff" stroke="none" stroke-width="0.8" stroke-linejoin="miter"/>
<line x1="193.40" y1="132.00" x2="193.40" y2="138.00" stroke="#8c95ff" stroke-width="0.8" />
<polygon points="191.30,135.00 195.50,132.70 195.50,137.30" fill="#2f3dff" stroke="none" stroke-width="0.8" stroke-linejoin="miter"/>
<line x1="216.40" y1="124.60" x2="216.40" y2="130.60" stroke="#8c95ff" stroke-width="0.8" />
<polygon points="214.30,127.60 218.50,125.30 218.50,129.90" fill="#2f3dff" stroke="none" stroke-width="0.8" stroke-linejoin="miter"/>
<line x1="221.20" y1="125.60" x2="221.20" y2="131.60" stroke="#8c95ff" stroke-width="0.8" />
<polygon points="219.10,128.60 223.30,126.30 223.30,130.90" fill="#2f3dff" stroke="none" stroke-width="0.8" stroke-linejoin="miter"/>
<line x1="208.30" y1="127.10" x2="208.30" y2="134.10" stroke="#ff8a90" stroke-width="0.8" />
<polygon points="210.40,130.60 206.20,128.30 206.20,132.90" fill="#ff3b46" stroke="none" stroke-width="0.8" stroke-linejoin="miter"/>
<line x1="209.80" y1="127.30" x2="209.80" y2="134.30" stroke="#ff8a90" stroke-width="0.8" />
<polygon points="211.90,130.80 207.70,128.50 207.70,133.10" fill="#ff3b46" stroke="none" stroke-width="0.8" stroke-linejoin="miter"/>
<line x1="211.30" y1="127.70" x2="211.30" y2="134.70" stroke="#ff8a90" stroke-width="0.8" />
<polygon points="213.40,131.20 209.20,128.90 209.20,133.50" fill="#ff3b46" stroke="none" stroke-width="0.8" stroke-linejoin="miter"/>
<line x1="212.80" y1="127.10" x2="212.80" y2="134.10" stroke="#ff8a90" stroke-width="0.8" />
<polygon points="214.90,130.60 210.70,128.30 210.70,132.90" fill="#ff3b46" stroke="none" stroke-width="0.8" stroke-linejoin="miter"/>
<line x1="214.30" y1="126.70" x2="214.30" y2="133.70" stroke="#ff8a90" stroke-width="0.8" />
<polygon points="216.40,130.20 212.20,127.90 212.20,132.50" fill="#ff3b46" stroke="none" stroke-width="0.8" stroke-linejoin="miter"/>
<line x1="238.20" y1="122.90" x2="238.20" y2="129.90" stroke="#ff8a90" stroke-width="0.8" />
<polygon points="236.10,126.40 240.30,124.10 240.30,128.70" fill="#ff3b46" stroke="none" stroke-width="0.8" stroke-linejoin="miter"/>
<line x1="239.40" y1="128.30" x2="239.40" y2="135.30" stroke="#ff8a90" stroke-width="0.8" />
<polygon points="237.30,131.80 241.50,129.50 241.50,134.10" fill="#ff3b46" stroke="none" stroke-width="0.8" stroke-linejoin="miter"/>
<line x1="240.80" y1="132.10" x2="240.80" y2="139.10" stroke="#ff8a90" stroke-width="0.8" />
<polygon points="238.70,135.60 242.90,133.30 242.90,137.90" fill="#ff3b46" stroke="none" stroke-width="0.8" stroke-linejoin="miter"/>
<line x1="282.30" y1="131.00" x2="282.30" y2="138.00" stroke="#ff8a90" stroke-width="0.8" />
<polygon points="280.20,134.50 284.40,132.20 284.40,136.80" fill="#ff3b46" stroke="none" stroke-width="0.8" stroke-linejoin="miter"/>
<polyline points="155.40,223.40 206.80,216.20 206.80,200.40 211.50,200.80 211.50,216.60 222.50,217.80 284.00,222.60" fill="none" stroke="#464646" stroke-width="2.2" stroke-linejoin="round" stroke-linecap="round" />
<polyline points="211.50,216.60 222.50,217.60 222.50,202.20 226.40,202.00 226.40,218.40 284.00,222.60" fill="none" stroke="#a8a8a8" stroke-width="2.2" stroke-linejoin="round" stroke-linecap="round" />
<line x1="207.30" y1="197.50" x2="207.30" y2="203.50" stroke="#d7a3db" stroke-width="1.2" />
<polygon points="205.20,200.50 209.40,198.20 209.40,202.80" fill="#a23db4" stroke="none" stroke-width="0.8" stroke-linejoin="miter"/>
<line x1="208.80" y1="199.00" x2="208.80" y2="205.00" stroke="#d7a3db" stroke-width="1.2" />
<polygon points="206.70,202.00 210.90,199.70 210.90,204.30" fill="#a23db4" stroke="none" stroke-width="0.8" stroke-linejoin="miter"/>
<line x1="210.30" y1="196.80" x2="210.30" y2="202.80" stroke="#d7a3db" stroke-width="1.2" />
<polygon points="208.20,199.80 212.40,197.50 212.40,202.10" fill="#a23db4" stroke="none" stroke-width="0.8" stroke-linejoin="miter"/>
<line x1="208.30" y1="201.50" x2="208.30" y2="207.50" stroke="#d7a3db" stroke-width="1.2" />
<polygon points="206.20,204.50 210.40,202.20 210.40,206.80" fill="#a23db4" stroke="none" stroke-width="0.8" stroke-linejoin="miter"/>
<line x1="209.80" y1="200.20" x2="209.80" y2="206.20" stroke="#d7a3db" stroke-width="1.2" />
<polygon points="207.70,203.20 211.90,200.90 211.90,205.50" fill="#a23db4" stroke="none" stroke-width="0.8" stroke-linejoin="miter"/>
<line x1="210.80" y1="198.30" x2="210.80" y2="204.30" stroke="#d7a3db" stroke-width="1.2" />
<polygon points="208.70,201.30 212.90,199.00 212.90,203.60" fill="#a23db4" stroke="none" stroke-width="0.8" stroke-linejoin="miter"/>
<line x1="222.90" y1="202.00" x2="222.90" y2="207.00" stroke="#d7a3db" stroke-width="1.2" />
<polygon points="225.00,204.50 220.80,202.20 220.80,206.80" fill="#a23db4" stroke="none" stroke-width="0.8" stroke-linejoin="miter"/>
<line x1="224.30" y1="200.50" x2="224.30" y2="205.50" stroke="#d7a3db" stroke-width="1.2" />
<polygon points="226.40,203.00 222.20,200.70 222.20,205.30" fill="#a23db4" stroke="none" stroke-width="0.8" stroke-linejoin="miter"/>
<line x1="225.60" y1="199.30" x2="225.60" y2="204.30" stroke="#d7a3db" stroke-width="1.2" />
<polygon points="227.70,201.80 223.50,199.50 223.50,204.10" fill="#a23db4" stroke="none" stroke-width="0.8" stroke-linejoin="miter"/>
<line x1="224.80" y1="202.70" x2="224.80" y2="207.70" stroke="#d7a3db" stroke-width="1.2" />
<polygon points="226.90,205.20 222.70,202.90 222.70,207.50" fill="#a23db4" stroke="none" stroke-width="0.8" stroke-linejoin="miter"/>
<line x1="155.10" y1="220.40" x2="155.10" y2="226.40" stroke="#8c95ff" stroke-width="0.8" />
<polygon points="153.00,223.40 157.20,221.10 157.20,225.70" fill="#2f3dff" stroke="none" stroke-width="0.8" stroke-linejoin="miter"/>
<line x1="180.90" y1="213.60" x2="180.90" y2="219.60" stroke="#8c95ff" stroke-width="0.8" />
<polygon points="178.80,216.60 183.00,214.30 183.00,218.90" fill="#2f3dff" stroke="none" stroke-width="0.8" stroke-linejoin="miter"/>
<line x1="190.40" y1="213.60" x2="190.40" y2="219.60" stroke="#8c95ff" stroke-width="0.8" />
<polygon points="188.30,216.60 192.50,214.30 192.50,218.90" fill="#2f3dff" stroke="none" stroke-width="0.8" stroke-linejoin="miter"/>
<line x1="201.30" y1="216.00" x2="201.30" y2="222.00" stroke="#8c95ff" stroke-width="0.8" />
<polygon points="199.20,219.00 203.40,216.70 203.40,221.30" fill="#2f3dff" stroke="none" stroke-width="0.8" stroke-linejoin="miter"/>
<line x1="205.20" y1="213.20" x2="205.20" y2="219.20" stroke="#8c95ff" stroke-width="0.8" />
<polygon points="203.10,216.20 207.30,213.90 207.30,218.50" fill="#2f3dff" stroke="none" stroke-width="0.8" stroke-linejoin="miter"/>
<line x1="206.40" y1="213.80" x2="206.40" y2="219.80" stroke="#8c95ff" stroke-width="0.8" />
<polygon points="204.30,216.80 208.50,214.50 208.50,219.10" fill="#2f3dff" stroke="none" stroke-width="0.8" stroke-linejoin="miter"/>
<line x1="209.90" y1="210.80" x2="209.90" y2="216.80" stroke="#8c95ff" stroke-width="0.8" />
<polygon points="207.80,213.80 212.00,211.50 212.00,216.10" fill="#2f3dff" stroke="none" stroke-width="0.8" stroke-linejoin="miter"/>
<line x1="213.50" y1="212.30" x2="213.50" y2="218.30" stroke="#8c95ff" stroke-width="0.8" />
<polygon points="211.40,215.30 215.60,213.00 215.60,217.60" fill="#2f3dff" stroke="none" stroke-width="0.8" stroke-linejoin="miter"/>
<line x1="221.70" y1="214.50" x2="221.70" y2="220.50" stroke="#8c95ff" stroke-width="0.8" />
<polygon points="219.60,217.50 223.80,215.20 223.80,219.80" fill="#2f3dff" stroke="none" stroke-width="0.8" stroke-linejoin="miter"/>
<line x1="222.50" y1="217.70" x2="222.50" y2="223.70" stroke="#8c95ff" stroke-width="0.8" />
<polygon points="220.40,220.70 224.60,218.40 224.60,223.00" fill="#2f3dff" stroke="none" stroke-width="0.8" stroke-linejoin="miter"/>
<line x1="210.70" y1="219.50" x2="210.70" y2="226.50" stroke="#ff8a90" stroke-width="0.8" />
<polygon points="208.60,223.00 212.80,220.70 212.80,225.30" fill="#ff3b46" stroke="none" stroke-width="0.8" stroke-linejoin="miter"/>
<line x1="213.90" y1="210.10" x2="213.90" y2="217.10" stroke="#ff8a90" stroke-width="0.8" />
<polygon points="216.00,213.60 211.80,211.30 211.80,215.90" fill="#ff3b46" stroke="none" stroke-width="0.8" stroke-linejoin="miter"/>
<line x1="217.00" y1="212.50" x2="217.00" y2="219.50" stroke="#ff8a90" stroke-width="0.8" />
<polygon points="214.90,216.00 219.10,213.70 219.10,218.30" fill="#ff3b46" stroke="none" stroke-width="0.8" stroke-linejoin="miter"/>
<line x1="218.60" y1="217.20" x2="218.60" y2="224.20" stroke="#ff8a90" stroke-width="0.8" />
<polygon points="216.50,220.70 220.70,218.40 220.70,223.00" fill="#ff3b46" stroke="none" stroke-width="0.8" stroke-linejoin="miter"/>
<line x1="216.20" y1="221.90" x2="216.20" y2="228.90" stroke="#ff8a90" stroke-width="0.8" />
<polygon points="214.10,225.40 218.30,223.10 218.30,227.70" fill="#ff3b46" stroke="none" stroke-width="0.8" stroke-linejoin="miter"/>
<line x1="219.40" y1="218.70" x2="219.40" y2="225.70" stroke="#ff8a90" stroke-width="0.8" />
<polygon points="221.50,222.20 217.30,219.90 217.30,224.50" fill="#ff3b46" stroke="none" stroke-width="0.8" stroke-linejoin="miter"/>
<line x1="214.60" y1="215.50" x2="214.60" y2="222.50" stroke="#ff8a90" stroke-width="0.8" />
<polygon points="216.70,219.00 212.50,216.70 212.50,221.30" fill="#ff3b46" stroke="none" stroke-width="0.8" stroke-linejoin="miter"/>
<line x1="227.20" y1="210.10" x2="227.20" y2="217.10" stroke="#ff8a90" stroke-width="0.8" />
<polygon points="229.30,213.60 225.10,211.30 225.10,215.90" fill="#ff3b46" stroke="none" stroke-width="0.8" stroke-linejoin="miter"/>
<line x1="228.00" y1="214.80" x2="228.00" y2="221.80" stroke="#ff8a90" stroke-width="0.8" />
<polygon points="230.10,218.30 225.90,216.00 225.90,220.60" fill="#ff3b46" stroke="none" stroke-width="0.8" stroke-linejoin="miter"/>
<line x1="229.80" y1="214.90" x2="229.80" y2="221.90" stroke="#ff8a90" stroke-width="0.8" />
<polygon points="231.90,218.40 227.70,216.10 227.70,220.70" fill="#ff3b46" stroke="none" stroke-width="0.8" stroke-linejoin="miter"/>
<line x1="231.20" y1="214.50" x2="231.20" y2="221.50" stroke="#ff8a90" stroke-width="0.8" />
<polygon points="233.30,218.00 229.10,215.70 229.10,220.30" fill="#ff3b46" stroke="none" stroke-width="0.8" stroke-linejoin="miter"/>
<line x1="246.20" y1="213.90" x2="246.20" y2="220.90" stroke="#ff8a90" stroke-width="0.8" />
<polygon points="244.10,217.40 248.30,215.10 248.30,219.70" fill="#ff3b46" stroke="none" stroke-width="0.8" stroke-linejoin="miter"/>
<line x1="281.50" y1="219.40" x2="281.50" y2="226.40" stroke="#ff8a90" stroke-width="0.8" />
<polygon points="279.40,222.90 283.60,220.60 283.60,225.20" fill="#ff3b46" stroke="none" stroke-width="0.8" stroke-linejoin="miter"/>
<text x="121.20" y="9.00" font-size="12.5" text-anchor="start" fill="#000" font-weight="bold" >d</text>
<text x="121.20" y="86.60" font-size="12.5" text-anchor="start" fill="#000" font-weight="bold" >e</text>
<text x="121.20" y="164.40" font-size="12.5" text-anchor="start" fill="#000" font-weight="bold" >f</text>
<text x="163.50" y="239.00" font-size="7" text-anchor="middle" fill="#231f20" >−1.0</text>
<text x="189.72" y="239.00" font-size="7" text-anchor="middle" fill="#231f20" >−0.5</text>
<text x="215.95" y="239.00" font-size="7" text-anchor="middle" fill="#231f20" >0</text>
<text x="242.17" y="239.00" font-size="7" text-anchor="middle" fill="#231f20" >0.5</text>
<text x="268.40" y="239.00" font-size="7" text-anchor="middle" fill="#231f20" >1.0</text>
<text x="216" y="251.2" font-size="8.3" text-anchor="middle" fill="#231f20"><tspan font-style="italic">B</tspan><tspan font-style="italic" font-size="5.5" dy="1.5">z</tspan><tspan dy="-1.5"> (T)</tspan></text>
<path d="M329.30,192.47 L330.15,193.28 L331.00,193.75 L331.84,194.15 L332.69,194.50 L333.54,194.82 L334.38,195.12 L335.23,195.40 L336.08,195.67 L336.93,195.93 L337.78,196.18 L338.62,196.41 L339.47,196.65 L340.32,196.87 L341.17,197.09 L342.01,197.30 L342.86,197.51 L343.71,197.71 L344.56,197.91 L345.40,198.10 L346.25,198.29 L347.10,198.48 L347.94,198.66 L348.79,198.84 L349.64,199.02 L350.49,199.20 L351.34,199.37 L352.18,199.54 L353.03,199.70 L353.88,199.87 L354.73,200.03 L355.57,200.19 L356.42,200.35 L357.27,200.51 L358.12,200.66 L358.96,200.82 L359.81,200.97 L360.66,201.12 L361.50,201.26 L362.35,201.41 L363.20,201.56 L364.05,201.70 L364.89,201.84 L365.74,201.98 L366.59,202.12 L367.44,202.26 L368.29,202.40 L369.13,202.53 L369.98,202.67 L370.83,202.80 L371.68,202.93 L372.52,203.06 L373.37,203.19 L374.22,203.32 L375.06,203.45 L375.91,203.58 L376.76,203.70 L377.61,203.83 L378.46,203.95 L379.30,204.08 L380.15,204.20 L381.00,204.32 L381.85,204.44 L382.69,204.56 L383.54,204.68 L384.39,204.80 L385.24,204.91 L386.08,205.03 L386.93,205.15 L387.78,205.26 L388.62,205.38 L389.47,205.49 L390.32,205.60 L391.17,205.71 L392.01,205.83 L392.86,205.94 L393.71,206.05 L394.56,206.16 L395.41,206.27 L396.25,206.37 L397.10,206.48 L397.95,206.59 L398.80,206.69 L399.64,206.80 L400.49,206.91 L401.34,207.01 L402.19,207.11 L403.03,207.22 L403.88,207.32 L404.73,207.42 L405.58,207.52 L406.42,207.63 L407.27,207.73 L408.12,207.83 L408.97,207.93 L409.81,208.03 L410.66,208.12 L411.51,208.22 L412.36,208.32 L413.20,208.42 L414.05,208.51 L414.90,208.61 L415.75,208.71 L416.59,208.80 L417.44,208.90 L418.29,208.99 L419.13,209.08 L419.98,209.18 L420.83,209.27 L421.68,209.36 L422.52,209.46 L423.37,209.55 L424.22,209.64 L425.07,209.73 L425.92,209.82 L426.76,209.91 L427.61,210.00 L428.46,210.09 L429.31,210.18 L430.15,210.27 L431.00,210.36 L431.85,210.44 L432.70,210.53 L433.54,210.62 L434.39,210.71 L435.24,210.79 L436.09,210.88 L436.93,210.96 L437.78,211.05 L438.63,211.13 L439.48,211.22 L440.32,211.30 L441.17,211.39 L442.02,211.47 L442.87,211.55 L443.71,211.64 L444.56,211.72 L445.41,211.80 L446.25,211.88 L447.10,211.97 L447.95,212.05 L448.80,212.13 L449.64,212.21 L450.49,212.29 L451.34,212.37 L452.19,212.45 L453.04,212.53 L453.88,212.61 L454.73,212.69 L455.58,212.76 L456.43,212.84 L457.27,212.92 L458.12,213.00 L458.97,213.07 L459.82,213.15 L460.66,213.23 L461.51,213.30 L462.36,213.38 L463.21,213.46 L464.05,213.53 L464.90,213.61 L465.75,213.68 L466.60,213.76 L467.44,213.83 L468.29,213.91 L469.14,213.98 L469.99,214.05 L470.83,214.13 L471.68,214.20 L472.53,214.27 L473.38,214.35 L474.22,214.42 L475.07,214.49 L475.92,214.56 L476.76,214.63 L477.61,214.70 L478.46,214.78 L479.31,214.85 L480.15,214.92 L481.00,214.99 L481.85,215.06 L482.70,215.13 L483.55,215.20 L484.39,215.27 L485.24,215.34 L486.09,215.40 L486.94,215.47 L487.78,215.54 L488.63,215.61 L489.48,215.68 L490.33,215.74 L491.17,215.81 L492.02,215.88 L492.87,215.95 L493.72,216.01 L494.56,216.08 L495.41,216.15 L496.26,216.21 L497.11,216.28 L497.95,216.34 L498.80,216.41 L498.8,229.3 L329.3,229.3 Z" fill="#d9d9d9" stroke="none" stroke-width="1" stroke-linejoin="round" />
<linearGradient id="gp2" x1="0" y1="73" x2="0" y2="214" gradientUnits="userSpaceOnUse"><stop offset="0" stop-color="#e0c2e2"/><stop offset="1" stop-color="#f8f1f8"/></linearGradient>
<path d="M329.30,73.30 C329.55,74.42 329.98,77.22 330.80,80.00 C331.62,82.78 332.87,86.67 334.20,90.00 C335.53,93.33 337.07,96.67 338.80,100.00 C340.53,103.33 342.63,106.67 344.60,110.00 C346.57,113.33 348.12,116.33 350.60,120.00 C353.08,123.67 356.27,127.90 359.50,132.00 C362.73,136.10 365.92,140.30 370.00,144.60 C374.08,148.90 379.77,153.70 384.00,157.80 C388.23,161.90 392.70,166.60 395.40,169.20 C398.10,171.80 396.93,170.90 400.20,173.40 C403.47,175.90 410.03,180.67 415.00,184.20 C419.97,187.73 425.83,192.03 430.00,194.60 C434.17,197.17 436.83,197.93 440.00,199.60 C443.17,201.27 446.00,203.03 449.00,204.60 C452.00,206.17 454.97,207.57 458.00,209.00 C461.03,210.43 465.67,212.50 467.20,213.20 L467.20,213.81 L465.48,213.66 L463.75,213.51 L462.03,213.35 L460.31,213.20 L458.58,213.04 L456.86,212.88 L455.13,212.72 L453.41,212.56 L451.69,212.40 L449.96,212.24 L448.24,212.07 L446.51,211.91 L444.79,211.74 L443.07,211.57 L441.34,211.40 L439.62,211.23 L437.90,211.06 L436.17,210.89 L434.45,210.71 L432.73,210.54 L431.00,210.36 L429.28,210.18 L427.55,210.00 L425.83,209.81 L424.11,209.63 L422.38,209.44 L420.66,209.25 L418.94,209.06 L417.21,208.87 L415.49,208.68 L413.76,208.48 L412.04,208.28 L410.32,208.08 L408.59,207.88 L406.87,207.68 L405.14,207.47 L403.42,207.26 L401.70,207.05 L399.97,206.84 L398.25,206.63 L396.53,206.41 L394.80,206.19 L393.08,205.97 L391.36,205.74 L389.63,205.51 L387.91,205.28 L386.18,205.04 L384.46,204.81 L382.74,204.57 L381.01,204.32 L379.29,204.07 L377.56,203.82 L375.84,203.57 L374.12,203.31 L372.39,203.04 L370.67,202.78 L368.95,202.50 L367.22,202.23 L365.50,201.94 L363.78,201.65 L362.05,201.36 L360.33,201.06 L358.60,200.75 L356.88,200.44 L355.16,200.11 L353.43,199.78 L351.71,199.44 L349.99,199.09 L348.26,198.73 L346.54,198.36 L344.81,197.97 L343.09,197.56 L341.37,197.14 L339.64,196.69 L337.92,196.22 L336.19,195.71 L334.47,195.15 L332.75,194.52 L331.02,193.76 L329.30,192.47 Z" fill="url(#gp2)" stroke="none" stroke-width="1" stroke-linejoin="round" />
<path d="M329.30,73.30 C329.55,74.42 329.98,77.22 330.80,80.00 C331.62,82.78 332.87,86.67 334.20,90.00 C335.53,93.33 337.07,96.67 338.80,100.00 C340.53,103.33 342.63,106.67 344.60,110.00 C346.57,113.33 348.12,116.33 350.60,120.00 C353.08,123.67 356.27,127.90 359.50,132.00 C362.73,136.10 365.92,140.30 370.00,144.60 C374.08,148.90 379.77,153.70 384.00,157.80 C388.23,161.90 392.70,166.60 395.40,169.20 C398.10,171.80 396.93,170.90 400.20,173.40 C403.47,175.90 410.03,180.67 415.00,184.20 C419.97,187.73 425.83,192.03 430.00,194.60 C434.17,197.17 436.83,197.93 440.00,199.60 C443.17,201.27 446.00,203.03 449.00,204.60 C452.00,206.17 454.97,207.57 458.00,209.00 C461.03,210.43 465.67,212.50 467.20,213.20" fill="none" stroke="#a43db2" stroke-width="1.3" stroke-linejoin="round" />
<line x1="344.60" y1="8.30" x2="344.60" y2="229.30" stroke="#111" stroke-width="0.9" stroke-dasharray="3.3,2.1" stroke-dashoffset="3.0"/>
<rect x="329.30" y="8.30" width="169.50" height="221.00" fill="none" stroke="#7d7d7d" stroke-width="1"/>
<line x1="371.68" y1="229.30" x2="371.68" y2="227.30" stroke="#7d7d7d" stroke-width="0.8" />
<line x1="414.05" y1="229.30" x2="414.05" y2="227.30" stroke="#7d7d7d" stroke-width="0.8" />
<line x1="456.43" y1="229.30" x2="456.43" y2="227.30" stroke="#7d7d7d" stroke-width="0.8" />
<line x1="329.30" y1="192.47" x2="331.30" y2="192.47" stroke="#7d7d7d" stroke-width="0.8" />
<line x1="329.30" y1="155.63" x2="331.30" y2="155.63" stroke="#7d7d7d" stroke-width="0.8" />
<line x1="329.30" y1="118.80" x2="331.30" y2="118.80" stroke="#7d7d7d" stroke-width="0.8" />
<line x1="329.30" y1="81.97" x2="331.30" y2="81.97" stroke="#7d7d7d" stroke-width="0.8" />
<line x1="329.30" y1="45.13" x2="331.30" y2="45.13" stroke="#7d7d7d" stroke-width="0.8" />
<text x="325.60" y="231.80" font-size="7" text-anchor="end" fill="#231f20" >0</text>
<text x="325.60" y="194.97" font-size="7" text-anchor="end" fill="#231f20" >0.2</text>
<text x="325.60" y="158.13" font-size="7" text-anchor="end" fill="#231f20" >0.4</text>
<text x="325.60" y="121.30" font-size="7" text-anchor="end" fill="#231f20" >0.6</text>
<text x="325.60" y="84.47" font-size="7" text-anchor="end" fill="#231f20" >0.8</text>
<text x="325.60" y="47.63" font-size="7" text-anchor="end" fill="#231f20" >1.0</text>
<text x="325.60" y="10.80" font-size="7" text-anchor="end" fill="#231f20" >1.2</text>
<text x="329.30" y="239.00" font-size="7" text-anchor="middle" fill="#231f20" >0</text>
<text x="371.68" y="239.00" font-size="7" text-anchor="middle" fill="#231f20" >5</text>
<text x="414.05" y="239.00" font-size="7" text-anchor="middle" fill="#231f20" >10</text>
<text x="456.43" y="239.00" font-size="7" text-anchor="middle" fill="#231f20" >15</text>
<text x="498.80" y="239.00" font-size="7" text-anchor="middle" fill="#231f20" >20</text>
<text x="414.5" y="251.2" font-size="8.3" text-anchor="middle" fill="#231f20"><tspan font-style="italic">T</tspan> (K)</text>
<text transform="translate(306.6,117.8) rotate(-90)" font-size="8.2" text-anchor="middle" fill="#231f20"><tspan font-style="italic">B</tspan><tspan font-style="italic" font-size="5.5" dy="1.5">z</tspan><tspan dy="-1.5"> (T)</tspan></text>
<text x="298.40" y="7.70" font-size="12.5" text-anchor="start" fill="#000" font-weight="bold" >g</text>
<polygon points="330.20,47.70 333.30,42.30 327.10,42.30" fill="#000" stroke="none" stroke-width="0.8" stroke-linejoin="miter"/>
<polygon points="330.20,49.30 333.30,54.70 327.10,54.70" fill="#000" stroke="none" stroke-width="0.8" stroke-linejoin="miter"/>
<polygon points="345.20,121.30 348.30,115.90 342.10,115.90" fill="#000" stroke="none" stroke-width="0.8" stroke-linejoin="miter"/>
<polygon points="345.20,119.70 348.30,125.10 342.10,125.10" fill="#000" stroke="none" stroke-width="0.8" stroke-linejoin="miter"/>
<polygon points="352.00,125.90 355.10,131.30 348.90,131.30" fill="#000" stroke="none" stroke-width="0.8" stroke-linejoin="miter"/>
<polygon points="352.00,136.10 355.10,130.70 348.90,130.70" fill="#000" stroke="none" stroke-width="0.8" stroke-linejoin="miter"/>
<polygon points="375.80,155.10 378.90,149.70 372.70,149.70" fill="#000" stroke="none" stroke-width="0.8" stroke-linejoin="miter"/>
<polygon points="375.80,153.30 378.90,158.70 372.70,158.70" fill="#000" stroke="none" stroke-width="0.8" stroke-linejoin="miter"/>
<polygon points="422.60,178.50 425.70,183.90 419.50,183.90" fill="#000" stroke="none" stroke-width="0.8" stroke-linejoin="miter"/>
<polygon points="422.60,185.90 425.70,180.50 419.50,180.50" fill="#000" stroke="none" stroke-width="0.8" stroke-linejoin="miter"/>
<polygon points="450.30,190.90 453.40,196.30 447.20,196.30" fill="#000" stroke="none" stroke-width="0.8" stroke-linejoin="miter"/>
<polygon points="450.30,201.10 453.40,195.70 447.20,195.70" fill="#000" stroke="none" stroke-width="0.8" stroke-linejoin="miter"/>
<polygon points="330.20,193.60 333.00,198.40 327.40,198.40" fill="#fff" stroke="#000" stroke-width="0.8" stroke-linejoin="miter"/>
<polygon points="330.20,203.40 333.00,198.60 327.40,198.60" fill="#fff" stroke="#000" stroke-width="0.8" stroke-linejoin="miter"/>
<polygon points="345.50,193.40 348.30,188.60 342.70,188.60" fill="#fff" stroke="#000" stroke-width="0.8" stroke-linejoin="miter"/>
<circle cx="346.40" cy="192.30" r="2.2" fill="#fff" stroke="#000" stroke-width="0.85"/>
<polygon points="345.50,199.80 348.30,204.60 342.70,204.60" fill="#fff" stroke="#000" stroke-width="0.8" stroke-linejoin="miter"/>
<polygon points="352.60,199.10 355.40,194.30 349.80,194.30" fill="#fff" stroke="#000" stroke-width="0.8" stroke-linejoin="miter"/>
<polygon points="352.60,203.40 355.40,208.20 349.80,208.20" fill="#fff" stroke="#000" stroke-width="0.8" stroke-linejoin="miter"/>
<circle cx="371.30" cy="200.70" r="2.2" fill="#fff" stroke="#000" stroke-width="0.85"/>
<polygon points="376.30,203.40 379.10,198.60 373.50,198.60" fill="#fff" stroke="#000" stroke-width="0.8" stroke-linejoin="miter"/>
<polygon points="376.30,204.80 379.10,209.60 373.50,209.60" fill="#fff" stroke="#000" stroke-width="0.8" stroke-linejoin="miter"/>
<circle cx="414.20" cy="208.90" r="2.3" fill="#fff" stroke="#000" stroke-width="0.85"/>
<polygon points="422.40,200.60 425.20,205.40 419.60,205.40" fill="#fff" stroke="#000" stroke-width="0.8" stroke-linejoin="miter"/>
<polygon points="422.40,210.70 425.20,205.90 419.60,205.90" fill="#fff" stroke="#000" stroke-width="0.8" stroke-linejoin="miter"/>
<polygon points="450.30,202.90 453.10,207.70 447.50,207.70" fill="#fff" stroke="#000" stroke-width="0.8" stroke-linejoin="miter"/>
<polygon points="450.30,215.70 453.10,210.90 447.50,210.90" fill="#fff" stroke="#000" stroke-width="0.8" stroke-linejoin="miter"/>
<circle cx="456.80" cy="215.10" r="2.2" fill="#fff" stroke="#000" stroke-width="0.85"/>
<circle cx="498.60" cy="219.80" r="2.3" fill="#fff" stroke="#000" stroke-width="0.85"/>
<polygon points="380.80,26.20 383.60,31.00 378.00,31.00" fill="#fff" stroke="#000" stroke-width="0.8" stroke-linejoin="miter"/>
<polygon points="396.00,31.00 398.80,26.20 393.20,26.20" fill="#fff" stroke="#000" stroke-width="0.8" stroke-linejoin="miter"/>
<text x="402.8" y="31.4" font-size="8.6" fill="#231f20"><tspan font-style="italic">B</tspan><tspan font-size="5.8" dy="2.6">B</tspan></text>
<polygon points="380.80,51.00 383.90,56.40 377.70,56.40" fill="#000" stroke="none" stroke-width="0.8" stroke-linejoin="miter"/>
<polygon points="396.00,56.40 399.10,51.00 392.90,51.00" fill="#000" stroke="none" stroke-width="0.8" stroke-linejoin="miter"/>
<text x="402.8" y="56.4" font-size="8.6" fill="#231f20"><tspan font-style="italic">B</tspan><tspan font-size="5.8" dy="2.6">S</tspan></text>
<line x1="383.00" y1="76.70" x2="398.70" y2="76.70" stroke="#a43db2" stroke-width="1.3" />
<text x="402.6" y="80.3" font-size="8.6" fill="#231f20" textLength="68.4" lengthAdjust="spacingAndGlyphs"><tspan font-style="italic">B</tspan><tspan font-size="5.8" dy="2.2">0</tspan><tspan dy="-2.2">(1 – (</tspan><tspan font-style="italic">T</tspan>/<tspan font-style="italic">T</tspan><tspan font-size="5.8" dy="2.2">P</tspan><tspan dy="-2.2">)</tspan><tspan font-size="5.8" dy="-3.2">2/3</tspan><tspan dy="3.2">)</tspan><tspan font-size="5.8" dy="-3.2">3/2</tspan></text>
<circle cx="395.50" cy="99.30" r="2.6" fill="#fff" stroke="#000" stroke-width="0.85"/>
<text x="403" y="101.6" font-size="8.6" fill="#231f20"><tspan font-style="italic">B</tspan><tspan font-size="5.6" dy="2.2">B</tspan></text>
<text x="414.30" y="101.60" font-size="8.6" text-anchor="start" fill="#231f20" textLength="69.3" lengthAdjust="spacingAndGlyphs" >superconducting</text>
<text x="403.00" y="111.90" font-size="8.6" text-anchor="start" fill="#231f20" textLength="87.2" lengthAdjust="spacingAndGlyphs" >quantum interference</text>
<text x="403.00" y="121.90" font-size="8.6" text-anchor="start" fill="#231f20" textLength="26.9" lengthAdjust="spacingAndGlyphs" >device</text>
<rect x="547.5" y="184.8" width="136.90" height="44.30" fill="#d9d9d9"/>
<linearGradient id="hp2" x1="0" y1="25" x2="0" y2="185" gradientUnits="userSpaceOnUse"><stop offset="0" stop-color="#e7cce9"/><stop offset="1" stop-color="#f8f1f8"/></linearGradient>
<path d="M548.20,184.50 C548.47,183.75 548.92,182.42 549.80,180.00 C550.68,177.58 552.22,173.33 553.50,170.00 C554.78,166.67 556.17,163.33 557.50,160.00 C558.83,156.67 560.28,153.33 561.50,150.00 C562.72,146.67 563.77,143.33 564.80,140.00 C565.83,136.67 566.67,133.33 567.70,130.00 C568.73,126.67 569.67,123.33 571.00,120.00 C572.33,116.67 574.30,113.33 575.70,110.00 C577.10,106.67 577.88,103.52 579.40,100.00 C580.92,96.48 582.82,92.33 584.80,88.90 C586.78,85.47 589.15,82.55 591.30,79.40 C593.45,76.25 595.30,73.15 597.70,70.00 C600.10,66.85 602.38,63.67 605.70,60.50 C609.02,57.33 614.38,53.47 617.60,51.00 C620.82,48.53 621.80,47.92 625.00,45.70 C628.20,43.48 632.87,39.92 636.80,37.70 C640.73,35.48 644.67,33.87 648.60,32.40 C652.53,30.93 656.47,29.78 660.40,28.90 C664.33,28.02 668.20,27.52 672.20,27.10 C676.20,26.68 682.37,26.52 684.40,26.40 L684.4,184.8 L548,184.8 Z" fill="url(#hp2)" stroke="none" stroke-width="1" stroke-linejoin="round" />
<line x1="547.50" y1="184.80" x2="684.40" y2="184.80" stroke="#000" stroke-width="1.6" />
<rect x="547.50" y="8.30" width="136.90" height="220.80" fill="none" stroke="#7d7d7d" stroke-width="1"/>
<line x1="584.10" y1="229.10" x2="584.10" y2="227.10" stroke="#7d7d7d" stroke-width="0.8" />
<text x="584.10" y="239.00" font-size="7" text-anchor="middle" fill="#231f20" >1</text>
<line x1="629.45" y1="229.10" x2="629.45" y2="227.10" stroke="#7d7d7d" stroke-width="0.8" />
<text x="629.45" y="239.00" font-size="7" text-anchor="middle" fill="#231f20" >2</text>
<line x1="674.80" y1="229.10" x2="674.80" y2="227.10" stroke="#7d7d7d" stroke-width="0.8" />
<text x="674.80" y="239.00" font-size="7" text-anchor="middle" fill="#231f20" >3</text>
<line x1="547.50" y1="118.70" x2="549.50" y2="118.70" stroke="#7d7d7d" stroke-width="0.8" />
<text x="543.90" y="231.60" font-size="7" text-anchor="end" fill="#231f20" >0</text>
<text x="543.90" y="121.20" font-size="7" text-anchor="end" fill="#231f20" >0.5</text>
<text x="543.90" y="10.80" font-size="7" text-anchor="end" fill="#231f20" >1.0</text>
<text x="616.6" y="251.4" font-size="8.3" textLength="66.8" lengthAdjust="spacingAndGlyphs" text-anchor="middle" fill="#231f20">Loop field, <tspan font-style="italic">B</tspan><tspan font-size="5.5" dy="1.5">L</tspan><tspan dy="-1.5"> (T)</tspan></text>
<text transform="translate(523.2,117.0) rotate(-90)" font-size="8.2" text-anchor="middle" fill="#231f20"><tspan font-style="italic">B</tspan><tspan font-style="italic" font-size="5.5" dy="1.5">z</tspan><tspan dy="-1.5"> (T)</tspan></text>
<text x="515.20" y="8.60" font-size="12.5" text-anchor="start" fill="#000" font-weight="bold" >h</text>
<polygon points="675.20,16.90 678.20,22.30 672.20,22.30" fill="#000" stroke="none" stroke-width="0.8" stroke-linejoin="miter"/>
<polygon points="675.20,41.00 678.20,35.60 672.20,35.60" fill="#000" stroke="none" stroke-width="0.8" stroke-linejoin="miter"/>
<polygon points="584.20,45.30 587.20,50.70 581.20,50.70" fill="#000" stroke="none" stroke-width="0.8" stroke-linejoin="miter"/>
<polygon points="583.80,98.80 586.80,93.40 580.80,93.40" fill="#000" stroke="none" stroke-width="0.8" stroke-linejoin="miter"/>
<polygon points="583.80,120.70 586.80,115.30 580.80,115.30" fill="#000" stroke="none" stroke-width="0.8" stroke-linejoin="miter"/>
<polygon points="556.80,142.10 559.80,147.50 553.80,147.50" fill="#000" stroke="none" stroke-width="0.8" stroke-linejoin="miter"/>
<polygon points="561.50,140.30 564.50,145.70 558.50,145.70" fill="#000" stroke="none" stroke-width="0.8" stroke-linejoin="miter"/>
<polygon points="561.50,154.20 564.50,148.80 558.50,148.80" fill="#000" stroke="none" stroke-width="0.8" stroke-linejoin="miter"/>
<polygon points="552.80,168.70 555.80,163.30 549.80,163.30" fill="#000" stroke="none" stroke-width="0.8" stroke-linejoin="miter"/>
<polygon points="555.80,159.50 558.80,164.90 552.80,164.90" fill="#000" stroke="none" stroke-width="0.8" stroke-linejoin="miter"/>
<polygon points="551.60,170.30 554.60,175.70 548.60,175.70" fill="#000" stroke="none" stroke-width="0.8" stroke-linejoin="miter"/>
<polygon points="556.20,190.90 558.90,186.30 553.50,186.30" fill="#fff" stroke="#000" stroke-width="0.8" stroke-linejoin="miter"/>
<polygon points="551.50,180.70 554.20,185.30 548.80,185.30" fill="#fff" stroke="#000" stroke-width="0.8" stroke-linejoin="miter"/>
<polygon points="555.90,185.30 558.60,180.70 553.20,180.70" fill="#fff" stroke="#000" stroke-width="0.8" stroke-linejoin="miter"/>
<polygon points="561.40,185.30 564.10,180.70 558.70,180.70" fill="#fff" stroke="#000" stroke-width="0.8" stroke-linejoin="miter"/>
<polygon points="551.40,186.90 554.10,191.50 548.70,191.50" fill="#fff" stroke="#000" stroke-width="0.8" stroke-linejoin="miter"/>
<polygon points="560.90,186.90 563.60,191.50 558.20,191.50" fill="#fff" stroke="#000" stroke-width="0.8" stroke-linejoin="miter"/>
<polygon points="584.00,179.20 586.70,174.60 581.30,174.60" fill="#fff" stroke="#000" stroke-width="0.8" stroke-linejoin="miter"/>
<polygon points="584.00,184.90 586.50,181.10 581.50,181.10" fill="#fff" stroke="#000" stroke-width="0.8" stroke-linejoin="miter"/>
<polygon points="584.00,185.70 586.70,190.30 581.30,190.30" fill="#fff" stroke="#000" stroke-width="0.8" stroke-linejoin="miter"/>
<polygon points="675.00,184.90 677.70,180.30 672.30,180.30" fill="#fff" stroke="#000" stroke-width="0.8" stroke-linejoin="miter"/>
<polygon points="675.00,184.90 677.70,189.50 672.30,189.50" fill="#fff" stroke="#000" stroke-width="0.8" stroke-linejoin="miter"/>
<line x1="548.00" y1="184.80" x2="683.90" y2="184.80" stroke="#000" stroke-width="1.6" />
<line x1="602.30" y1="17.00" x2="602.30" y2="21.60" stroke="#3c44ff" stroke-width="1.3" />
<polygon points="600.40,21.60 604.20,21.60 602.30,25.20" fill="#3c44ff"/>
<line x1="602.30" y1="29.50" x2="602.30" y2="34.10" stroke="#3c44ff" stroke-width="1.3" />
<polygon points="600.40,34.10 604.20,34.10 602.30,37.70" fill="#3c44ff"/>
<line x1="609.80" y1="17.00" x2="609.80" y2="21.60" stroke="#3c44ff" stroke-width="1.3" />
<polygon points="607.90,21.60 611.70,21.60 609.80,25.20" fill="#3c44ff"/>
<line x1="609.80" y1="29.50" x2="609.80" y2="34.10" stroke="#3c44ff" stroke-width="1.3" />
<polygon points="607.90,34.10 611.70,34.10 609.80,37.70" fill="#3c44ff"/>
<line x1="617.20" y1="17.00" x2="617.20" y2="21.60" stroke="#3c44ff" stroke-width="1.3" />
<polygon points="615.30,21.60 619.10,21.60 617.20,25.20" fill="#3c44ff"/>
<line x1="617.20" y1="29.50" x2="617.20" y2="34.10" stroke="#3c44ff" stroke-width="1.3" />
<polygon points="615.30,34.10 619.10,34.10 617.20,37.70" fill="#3c44ff"/>
<line x1="653.90" y1="154.70" x2="653.90" y2="159.20" stroke="#3c44ff" stroke-width="1.3" />
<polygon points="652.00,159.20 655.80,159.20 653.90,162.80" fill="#3c44ff"/>
<line x1="653.90" y1="174.80" x2="653.90" y2="169.50" stroke="#ff3c46" stroke-width="1.3" />
<polygon points="652.00,169.50 655.80,169.50 653.90,165.90" fill="#ff3c46"/>
<line x1="661.30" y1="154.70" x2="661.30" y2="159.20" stroke="#3c44ff" stroke-width="1.3" />
<polygon points="659.40,159.20 663.20,159.20 661.30,162.80" fill="#3c44ff"/>
<line x1="661.30" y1="174.80" x2="661.30" y2="169.50" stroke="#ff3c46" stroke-width="1.3" />
<polygon points="659.40,169.50 663.20,169.50 661.30,165.90" fill="#ff3c46"/>
<line x1="668.70" y1="154.70" x2="668.70" y2="159.20" stroke="#3c44ff" stroke-width="1.3" />
<polygon points="666.80,159.20 670.60,159.20 668.70,162.80" fill="#3c44ff"/>
<line x1="668.70" y1="174.80" x2="668.70" y2="169.50" stroke="#ff3c46" stroke-width="1.3" />
<polygon points="666.80,169.50 670.60,169.50 668.70,165.90" fill="#ff3c46"/>
<line x1="660.90" y1="204.80" x2="660.90" y2="199.70" stroke="#ff3c46" stroke-width="1.3" />
<polygon points="659.00,199.70 662.80,199.70 660.90,196.10" fill="#ff3c46"/>
<line x1="660.90" y1="215.70" x2="660.90" y2="210.70" stroke="#ff3c46" stroke-width="1.3" />
<polygon points="659.00,210.70 662.80,210.70 660.90,207.10" fill="#ff3c46"/>
<line x1="668.50" y1="204.80" x2="668.50" y2="199.70" stroke="#ff3c46" stroke-width="1.3" />
<polygon points="666.60,199.70 670.40,199.70 668.50,196.10" fill="#ff3c46"/>
<line x1="668.50" y1="215.70" x2="668.50" y2="210.70" stroke="#ff3c46" stroke-width="1.3" />
<polygon points="666.60,210.70 670.40,210.70 668.50,207.10" fill="#ff3c46"/>
<line x1="676.00" y1="204.80" x2="676.00" y2="199.70" stroke="#ff3c46" stroke-width="1.3" />
<polygon points="674.10,199.70 677.90,199.70 676.00,196.10" fill="#ff3c46"/>
<line x1="676.00" y1="215.70" x2="676.00" y2="210.70" stroke="#ff3c46" stroke-width="1.3" />
<polygon points="674.10,210.70 677.90,210.70 676.00,207.10" fill="#ff3c46"/>
<text x="582.2" y="72.0" font-size="8.6" fill="#231f20"><tspan font-style="italic">B</tspan><tspan font-size="5.3" dy="2.4">S</tspan></text>
<text x="605.0" y="193.7" font-size="8" fill="#231f20"><tspan font-style="italic">B</tspan><tspan font-size="5.3" dy="2.4">B</tspan></text>
<polyline points="628.80,69.10 671.80,69.10" fill="none" stroke="#ff4040" stroke-width="1.3" stroke-linejoin="round" stroke-linecap="round" />
<polyline points="665.20,69.10 665.20,77.30" fill="none" stroke="#ff4040" stroke-width="1.3" stroke-linejoin="round" stroke-linecap="round" />
<polyline points="665.20,77.30 650.50,77.30 650.50,127.70" fill="none" stroke="#a445b8" stroke-width="1.3" stroke-linejoin="round" stroke-linecap="round" />
<polyline points="628.80,69.10 628.80,118.90 614.80,118.90" fill="none" stroke="#a445b8" stroke-width="1.3" stroke-linejoin="round" stroke-linecap="round" />
<polyline points="614.80,118.90 614.80,127.70" fill="none" stroke="#3c44ff" stroke-width="1.3" stroke-linejoin="round" stroke-linecap="round" />
<polyline points="607.70,127.70 651.00,127.70" fill="none" stroke="#3c44ff" stroke-width="1.3" stroke-linejoin="round" stroke-linecap="round" />
<line x1="602.80" y1="98.40" x2="674.00" y2="98.40" stroke="#000" stroke-width="1.0" />
<polygon points="677.4,98.4 672.8,96.6 672.8,100.2" fill="#000"/>
<polygon points="673.6,98.4 670.6,96.9 670.6,99.9" fill="#000"/>
<polygon points="606.8,98.4 609.6,96.9 609.6,99.9" fill="#000"/>
<line x1="639.60" y1="134.80" x2="639.60" y2="61.50" stroke="#000" stroke-width="1.0" />
<polygon points="639.6,56.8 637.7,62 641.5,62" fill="#000"/>
<line x1="635.00" y1="73.30" x2="647.80" y2="73.30" stroke="#707070" stroke-width="1.0" />
<polygon points="631.8,73.3 635.4,71.6 635.4,75.0" fill="#707070"/>
<line x1="631.30" y1="123.20" x2="643.20" y2="123.20" stroke="#b8b8b8" stroke-width="1.0" />
<polygon points="646.8,123.2 643.2,121.5 643.2,124.9" fill="#b8b8b8"/>
<polygon points="614.80,100.90 617.30,96.30 612.30,96.30" fill="#000" stroke="none" stroke-width="0.8" stroke-linejoin="miter"/>
<polygon points="628.90,100.30 631.20,96.30 626.60,96.30" fill="#fff" stroke="#000" stroke-width="0.75" stroke-linejoin="miter"/>
<polygon points="650.60,96.40 652.90,100.40 648.30,100.40" fill="#fff" stroke="#000" stroke-width="0.75" stroke-linejoin="miter"/>
<polygon points="665.00,96.00 667.50,100.60 662.50,100.60" fill="#000" stroke="none" stroke-width="0.8" stroke-linejoin="miter"/>
<text x="643.0" y="58.8" font-size="8.0" fill="#231f20" font-style="italic">M</text>
<text x="607.9" y="92.2" font-size="8.0" fill="#231f20">−<tspan font-style="italic">B</tspan><tspan font-size="5.8" dy="2.3">S</tspan></text>
<text x="602.6" y="108.8" font-size="8.0" fill="#231f20">−<tspan font-style="italic">B</tspan><tspan font-size="5.8" dy="2.3">L</tspan></text>
<text x="625.4" y="108.8" font-size="8.0" fill="#231f20">−<tspan font-style="italic">B</tspan><tspan font-size="5.8" dy="2.3">B</tspan></text>
<text x="652.8" y="92.2" font-size="8.0" fill="#231f20"><tspan font-style="italic">B</tspan><tspan font-size="5.8" dy="2.3">B</tspan></text>
<text x="667.6" y="92.2" font-size="8.0" fill="#231f20"><tspan font-style="italic">B</tspan><tspan font-size="5.8" dy="2.3">L</tspan></text>
<text x="660.8" y="108.9" font-size="8.0" fill="#231f20"><tspan font-style="italic">B</tspan><tspan font-size="5.8" dy="2.3">S</tspan></text>
<text x="672.8" y="108.6" font-size="8.0" fill="#231f20"><tspan font-style="italic">B</tspan><tspan font-size="5.8" dy="2.3">z</tspan></text>
</svg></body></html>
